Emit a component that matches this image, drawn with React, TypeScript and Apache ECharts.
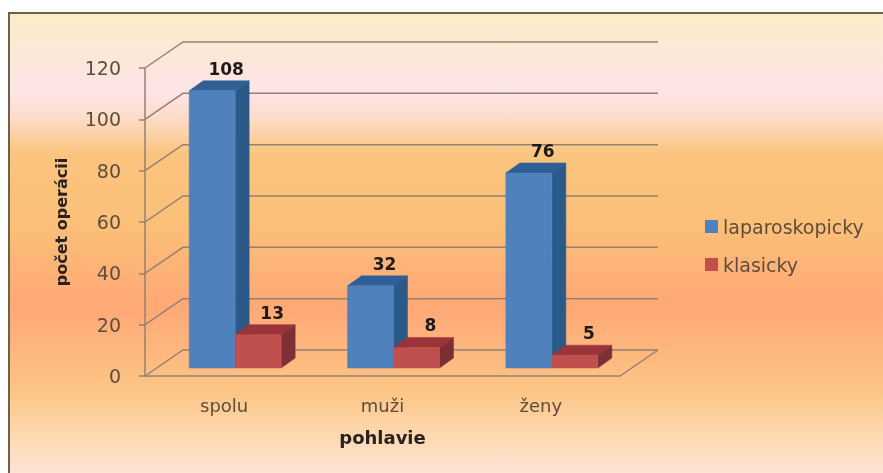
import React, { useEffect, useRef } from "react";
import * as echarts from "echarts";

const categories = ["spolu", "muži", "ženy"];
const laparoskopicky = [108, 32, 76];
const klasicky = [13, 8, 5];
const yTicks = [0, 20, 40, 60, 80, 100, 120];

const W = 883;
const H = 473;
const FONT = "'DejaVu Sans', sans-serif";
const TEXT = "#5f4c3c";

// 3D layout offsets in pixels
const WALL_DX = 38;
const WALL_DY = -26;
const BAR_SHIFT_X = 11;
const BAR_SHIFT_Y = -8;
const BAR_W = 46;
const DEPTH_X = 14;
const DEPTH_Y = -10;

function barItem(side: number, front: string, top: string, flank: string) {
  return (params: any, api: any) => {
    const cat = api.value(0);
    const val = api.value(1);
    const p0 = api.coord([cat, 0]);
    const p1 = api.coord([cat, val]);
    const x0 = p0[0] + BAR_SHIFT_X + (side === 0 ? -BAR_W : 0);
    const x1 = x0 + BAR_W;
    const yb = p0[1] + BAR_SHIFT_Y;
    const yt = p1[1] + BAR_SHIFT_Y;
    const poly = (points: number[][], fill: string) => ({
      type: "polygon",
      shape: { points },
      style: { fill, stroke: fill, lineWidth: 0.5 },
    });
    return {
      type: "group",
      children: [
        poly([[x1, yb], [x1 + DEPTH_X, yb + DEPTH_Y], [x1 + DEPTH_X, yt + DEPTH_Y], [x1, yt]], flank),
        poly([[x0, yt], [x1, yt], [x1 + DEPTH_X, yt + DEPTH_Y], [x0 + DEPTH_X, yt + DEPTH_Y]], top),
        poly([[x0, yb], [x1, yb], [x1, yt], [x0, yt]], front),
        {
          type: "text",
          x: (x0 + x1) / 2 + DEPTH_X,
          y: yt - 22,
          style: {
            text: String(val),
            fill: "#1e1a18",
            font: `bold 17px ${FONT}`,
            align: "center",
            verticalAlign: "middle",
          },
        },
      ],
    };
  };
}

function wallItem(params: any, api: any) {
  const v = api.value(1);
  const cs = params.coordSys;
  const y = api.coord([0, v])[1];
  const lx = cs.x;
  const rx = cs.x + cs.width;
  const points = [
    [lx, y],
    [lx + WALL_DX, y + WALL_DY],
    [rx + WALL_DX, y + WALL_DY],
  ];
  const children: any[] = [
    {
      type: "polyline",
      shape: { points },
      style: { fill: "none", stroke: "#948170", lineWidth: 1.5 },
    },
  ];
  if (v === 0) {
    children.push({
      type: "line",
      shape: { x1: rx, y1: y, x2: rx + WALL_DX, y2: y + WALL_DY },
      style: { stroke: "#948170", lineWidth: 1.5 },
    });
  }
  return { type: "group", children };
}

export default function App() {
  const ref = useRef<HTMLDivElement>(null);
  useEffect(() => {
    const chart = echarts.init(ref.current!, undefined, { renderer: "svg", width: W, height: H });
    chart.setOption({
      animation: false,
      textStyle: { fontFamily: FONT },
      graphic: [
        {
          type: "rect",
          z: -10,
          silent: true,
          shape: { x: 9, y: 13, width: W, height: H },
          style: {
            stroke: "#6f6148",
            lineWidth: 2,
            fill: {
              type: "linear",
              x: 0,
              y: 0,
              x2: 0,
              y2: 1,
              colorStops: [
                { offset: 0, color: "#fcebc8" },
                { offset: 0.17, color: "#fde4e8" },
                { offset: 0.22, color: "#fddcc8" },
                { offset: 0.3, color: "#fbc47e" },
                { offset: 0.45, color: "#fbbf78" },
                { offset: 0.62, color: "#ffa876" },
                { offset: 0.8, color: "#fcc585" },
                { offset: 0.9, color: "#fddab4" },
                { offset: 1, color: "#ffe6e2" },
              ],
            },
          },
        },
      ],
      grid: { left: 145, top: 68, width: 475, height: 308 },
      legend: {
        left: 700,
        top: 212,
        orient: "vertical",
        icon: "rect",
        itemWidth: 13,
        itemHeight: 13,
        itemGap: 19,
        data: ["laparoskopicky", "klasicky"],
        textStyle: { color: TEXT, fontSize: 19, fontFamily: FONT },
      },
      xAxis: {
        type: "category",
        data: categories,
        name: "pohlavie",
        nameLocation: "middle",
        nameGap: 52,
        nameTextStyle: { color: "#2a2220", fontWeight: "bold", fontSize: 18, fontFamily: FONT },
        axisLine: { lineStyle: { color: "#948170", width: 1.5 } },
        axisTick: { show: false },
        axisLabel: { color: TEXT, fontSize: 18, margin: 20, fontFamily: FONT },
      },
      yAxis: {
        type: "value",
        min: 0,
        max: 120,
        interval: 20,
        name: "počet operácii",
        nameLocation: "middle",
        nameGap: 76,
        nameTextStyle: { color: "#2a2220", fontWeight: "bold", fontSize: 16, fontFamily: FONT },
        axisLine: { show: true, lineStyle: { color: "#948170", width: 1.5 } },
        axisTick: { show: true, length: 6, lineStyle: { color: "#948170", width: 1.5 } },
        axisLabel: { color: TEXT, fontSize: 19, margin: 24, fontFamily: FONT },
        splitLine: { show: false },
      },
      series: [
        {
          type: "custom",
          name: "mriežka",
          renderItem: wallItem,
          data: yTicks.map((t) => [0, t]),
          encode: { x: 0, y: 1 },
          silent: true,
          clip: false,
          z: 1,
        },
        {
          type: "custom",
          name: "laparoskopicky",
          renderItem: barItem(0, "#4f81bd", "#2f5f96", "#2b5a88"),
          data: laparoskopicky.map((v, i) => [i, v]),
          encode: { x: 0, y: 1 },
          itemStyle: { color: "#4f81bd" },
          clip: false,
          z: 2,
        },
        {
          type: "custom",
          name: "klasicky",
          renderItem: barItem(1, "#c0504d", "#98343a", "#7d2f33"),
          data: klasicky.map((v, i) => [i, v]),
          encode: { x: 0, y: 1 },
          itemStyle: { color: "#c0504d" },
          clip: false,
          z: 3,
        },
      ],
    });
    return () => chart.dispose();
  }, []);
  return (
    <div
      ref={ref}
      style={{ position: "fixed", left: 0, top: 0, width: W, height: H, background: "#fff", overflow: "hidden", filter: "blur(0.7px)" }}
    />
  );
}
